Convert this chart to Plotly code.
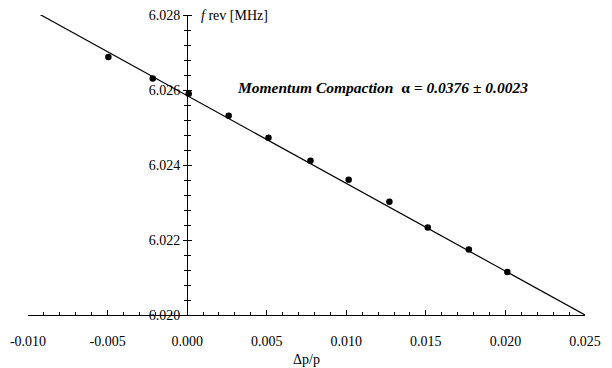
import plotly.graph_objects as go

# Measured data: relative momentum deviation vs revolution frequency
dp_p = [-0.00495, -0.00216, 0.0001, 0.00261, 0.00511, 0.00775, 0.01015, 0.01271, 0.01512, 0.0177, 0.02012]
f_rev = [6.02688, 6.02631, 6.0259, 6.02531, 6.02473, 6.02411, 6.02361, 6.02302, 6.02233, 6.02175, 6.02115]

# Linear fit end points
fit_x = [-0.0094, 0.025]
fit_y = [6.02805, 6.02000]

x_range = [-0.010, 0.025]
y_range = [6.020, 6.028]
x_ticks = [-0.010, -0.005, 0.000, 0.005, 0.010, 0.015, 0.020, 0.025]
x_ticktext = ["-0.010", "-0.005", "0.000", "0.005", "0.010", "0.015", "0.020", "0.025"]
y_ticks = [6.020, 6.022, 6.024, 6.026, 6.028]
y_ticktext = ["6.020", "6.022", "6.024", "6.026", "6.028"]

FONT = "Liberation Serif, Times New Roman, serif"
ypos = (0 - x_range[0]) / (x_range[1] - x_range[0])

fig = go.Figure()
fig.add_trace(go.Scatter(x=fit_x, y=fit_y, mode="lines",
                         line=dict(color="black", width=1.2), hoverinfo="skip"))
fig.add_trace(go.Scatter(x=dp_p, y=f_rev, mode="markers",
                         marker=dict(color="black", size=6.5)))
# invisible trace to hold the overlay y axis (ticks on the right side of the axis)
fig.add_trace(go.Scatter(x=[fit_x[0]], y=[fit_y[1]], yaxis="y2", mode="markers",
                         marker=dict(opacity=0), hoverinfo="skip"))

fig.update_layout(
    width=612, height=368,
    margin=dict(l=28, r=27, t=15, b=53, autoexpand=False),
    paper_bgcolor="white", plot_bgcolor="white",
    showlegend=False,
    font=dict(family=FONT, size=14, color="black"),
    xaxis=dict(range=x_range, tickvals=x_ticks, ticktext=x_ticktext, automargin=False,
               showgrid=False, zeroline=False, showline=True, linecolor="black", linewidth=1,
               ticks="inside", ticklen=5, tickcolor="black", tickwidth=1,
               ticklabelstandoff=13,
               minor=dict(dtick=0.001, tick0=-0.010, ticks="inside", ticklen=3,
                          tickcolor="black", showgrid=False),
               tickfont=dict(family=FONT, size=14, color="black"),
               title=dict(text="Δp/p", font=dict(family=FONT, size=14, color="black"), standoff=6)),
    yaxis=dict(range=y_range, tickvals=y_ticks, ticktext=y_ticktext, automargin=False,
               anchor="free", position=ypos,
               showgrid=False, zeroline=False, showline=True, linecolor="black", linewidth=1,
               ticks="outside", ticklen=4, tickcolor="black", tickwidth=1,
               minor=dict(dtick=0.0004, tick0=6.020, ticks="outside", ticklen=3,
                          tickcolor="black", showgrid=False),
               tickfont=dict(family=FONT, size=14, color="black")),
    yaxis2=dict(range=y_range, overlaying="y", anchor="free", position=ypos, side="right",
                tickvals=y_ticks, showticklabels=False, automargin=False,
                showgrid=False, zeroline=False, showline=False,
                ticks="outside", ticklen=4, tickcolor="black", tickwidth=1,
                minor=dict(dtick=0.0004, tick0=6.020, ticks="outside", ticklen=3,
                           tickcolor="black", showgrid=False)),
)

fig.add_annotation(text="<i>f</i> rev [MHz]", xref="x", yref="y", x=0, y=6.028,
                   xanchor="left", yanchor="middle", xshift=12, showarrow=False,
                   font=dict(family=FONT, size=14, color="black"))
fig.add_annotation(text="<b><i>Momentum Compaction</i>  α <i>= 0.0376 ± 0.0023</i></b>",
                   xref="paper", yref="paper", x=(382 - 28) / 557, y=(315 - 87) / 300,
                   xanchor="center", yanchor="middle", showarrow=False,
                   font=dict(family=FONT, size=15.5, color="black"))

fig.write_html("out.html")
